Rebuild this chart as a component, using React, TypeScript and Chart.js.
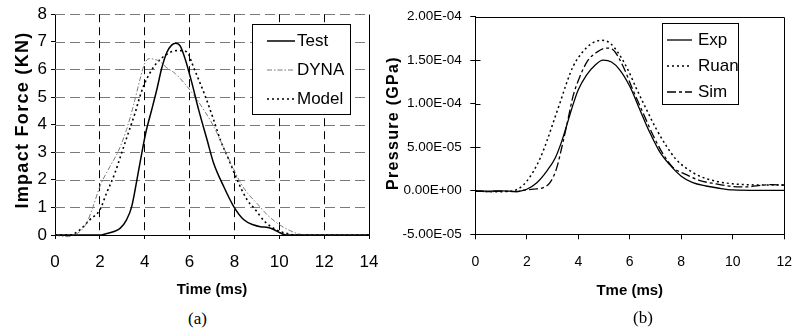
import React, { useEffect, useRef } from "react";
import { Chart, registerables } from "chart.js";

Chart.register(...registerables);
Chart.defaults.color = "#000";

// ---------- Panel (a): impact force ----------
const forceXTicks = [0, 2, 4, 6, 8, 10, 12, 14];
const forceYTicks = [0, 1, 2, 3, 4, 5, 6, 7, 8];

const testTime = [0, 1.0, 2.0, 2.2, 2.6, 2.9, 3.19, 3.42, 3.64, 3.87, 4.06, 4.3, 4.54, 4.76, 4.99, 5.2, 5.38, 5.58, 5.81, 6.1, 6.4, 6.78, 7.07, 7.52, 7.97, 8.42, 8.87, 9.16, 9.5, 9.75, 10.03, 10.3, 11, 12, 13, 14];
const testForce = [0, 0, 0, 0.03, 0.12, 0.24, 0.55, 1.03, 1.94, 2.97, 3.75, 4.5, 5.27, 6.05, 6.62, 6.88, 6.95, 6.85, 6.36, 5.52, 4.55, 3.45, 2.61, 1.76, 1.03, 0.55, 0.36, 0.3, 0.27, 0.2, 0.08, 0, 0, 0, 0, 0];

const dynaTime = [0, 0.3, 0.6, 0.9, 1.1, 1.4, 1.7, 2.0, 2.45, 2.82, 3.19, 3.49, 3.79, 4.01, 4.24, 4.45, 4.69, 4.95, 5.36, 5.88, 6.25, 6.7, 7.1, 7.5, 7.9, 8.3, 8.6, 9.0, 9.5, 10.03, 10.5, 10.9, 11.3, 12, 14];
const dynaForce = [0, -0.04, -0.06, 0.02, 0.12, 0.42, 1.03, 1.76, 2.48, 3.03, 3.82, 4.67, 5.64, 6.24, 6.39, 6.36, 6.28, 6.08, 5.85, 5.39, 5.0, 4.45, 3.9, 3.2, 2.5, 1.85, 1.5, 1.15, 0.7, 0.36, 0.15, 0.03, 0, 0, 0];

const modelTime = [0, 0.66, 1.1, 1.55, 2.0, 2.3, 2.67, 2.97, 3.27, 3.57, 3.79, 4.01, 4.24, 4.54, 4.99, 5.43, 5.8, 5.96, 6.1, 6.4, 6.7, 7.07, 7.37, 7.75, 8.12, 8.57, 8.9, 9.36, 9.88, 10.48, 10.8, 12, 14];
const modelForce = [0, 0, 0.18, 0.55, 0.91, 1.52, 2.24, 2.97, 3.7, 4.42, 5.03, 5.52, 5.88, 6.24, 6.55, 6.68, 6.66, 6.55, 6.24, 5.64, 5.03, 4.18, 3.45, 2.73, 2.0, 1.27, 0.95, 0.48, 0.18, 0.03, 0, 0, 0];

// ---------- Panel (b): pressure ----------
const pressXTicks = [0, 2, 4, 6, 8, 10, 12];
const pressYTicks = [-5e-5, 0, 5e-5, 1e-4, 1.5e-4, 2e-4];

const expTime = [0, 0.5, 1.0, 1.6, 1.8, 2.0, 2.39, 2.77, 3.1, 3.35, 3.55, 3.74, 4.0, 4.32, 4.64, 4.96, 5.29, 5.61, 6.0, 6.38, 6.77, 7.16, 7.55, 8.0, 8.45, 8.96, 9.47, 10.0, 11, 12];
const expP = [0, -0.05, 0, -0.1, 0, 0.18, 0.93, 2.24, 3.74, 5.62, 7.5, 9.37, 11.6, 13.3, 14.4, 15.0, 14.8, 13.9, 12.0, 9.4, 6.75, 4.5, 3.0, 1.68, 0.93, 0.55, 0.29, 0.1, 0.05, 0.05];

const ruanTime = [0, 0.5, 1.0, 1.48, 1.74, 2.0, 2.26, 2.52, 2.77, 3.03, 3.29, 3.55, 3.8, 4.13, 4.51, 4.9, 5.22, 5.54, 5.93, 6.25, 6.64, 7.03, 7.41, 7.8, 8.19, 8.7, 9.35, 10.0, 10.6, 11.3, 12];
const ruanP = [0, -0.1, -0.1, 0, 0.36, 1.1, 2.24, 3.74, 5.62, 7.87, 10.1, 12.4, 14.3, 15.8, 16.9, 17.3, 17.0, 15.9, 13.9, 11.8, 9.4, 7.1, 5.2, 3.6, 2.6, 1.7, 1.1, 0.8, 0.7, 0.65, 0.65];

const simTime = [0, 0.5, 1.0, 1.6, 1.87, 2.26, 2.64, 2.9, 3.16, 3.35, 3.55, 3.8, 4.06, 4.38, 4.71, 5.09, 5.35, 5.74, 6.12, 6.51, 6.9, 7.28, 7.67, 8.19, 8.7, 9.33, 9.97, 10.5, 11.0, 11.5, 12];
const simP = [0, -0.1, -0.05, -0.1, 0.06, 0.18, 0.36, 0.93, 2.6, 4.86, 7.5, 10.9, 13.1, 15.0, 15.9, 16.4, 16.2, 14.3, 11.6, 9.0, 6.4, 4.3, 2.7, 1.86, 1.2, 0.8, 0.5, 0.44, 0.6, 0.7, 0.65];
const pressUnit = 1e-5;

function pts(xs: number[], ys: number[], scale = 1) {
  return xs.map((x, i) => ({ x, y: ys[i] * scale }));
}

function sciLabel(v: number): string {
  if (Math.abs(v) < 1e-12) return "0.00E+00";
  const [m, e] = v.toExponential(2).split("e");
  const n = parseInt(e, 10);
  return `${m}E${n < 0 ? "-" : "+"}${Math.abs(n).toString().padStart(2, "0")}`;
}

const SANS = "'Liberation Sans', Arial, sans-serif";
const NARROW = "'Liberation Sans Narrow', 'Arial Narrow', 'Liberation Sans', sans-serif";

const boxLegend = {
  id: "boxLegend",
  afterDraw(chart: any, _a: any, o: any) {
    if (!o || !o.rows) return;
    const ctx = chart.ctx;
    ctx.save();
    ctx.fillStyle = "#fff";
    ctx.fillRect(o.left, o.top, o.width, o.height);
    ctx.strokeStyle = "#000";
    ctx.lineWidth = 1;
    ctx.strokeRect(Math.round(o.left) + 0.5, Math.round(o.top) + 0.5, o.width, o.height);
    chart.data.datasets.forEach((ds: any, i: number) => {
      const y = o.rows[i];
      ctx.setLineDash(ds.borderDash || []);
      ctx.strokeStyle = ds.borderColor;
      ctx.lineWidth = ds.borderWidth;
      ctx.beginPath();
      ctx.moveTo(o.sampleX, y);
      ctx.lineTo(o.sampleX + o.sampleLen, y);
      ctx.stroke();
      ctx.setLineDash([]);
      ctx.fillStyle = "#000";
      ctx.font = o.font;
      ctx.textAlign = "left";
      ctx.textBaseline = "middle";
      ctx.fillText(ds.label, o.textX, y);
    });
    ctx.restore();
  },
};

const rotatedTitle = {
  id: "rotatedTitle",
  afterDraw(chart: any, _a: any, o: any) {
    if (!o || !o.text) return;
    const ctx = chart.ctx;
    ctx.save();
    ctx.translate(o.x, o.y);
    ctx.rotate(-Math.PI / 2);
    ctx.font = o.font;
    ctx.letterSpacing = o.spacing;
    ctx.fillStyle = "#000";
    ctx.textAlign = "center";
    ctx.textBaseline = "middle";
    ctx.fillText(o.text, 0, 0);
    ctx.restore();
  },
};

// dashed horizontal grid lines drawn from the y scale's ticks
const hGrid = {
  id: "hGrid",
  beforeDatasetsDraw(chart: any, _a: any, o: any) {
    if (!o || !o.color) return;
    const ys = chart.scales.y;
    const { left, right } = chart.chartArea;
    const ctx = chart.ctx;
    ctx.save();
    ctx.strokeStyle = o.color;
    ctx.lineWidth = 1;
    ctx.setLineDash(o.dash);
    ys.ticks.forEach((t: any) => {
      if (t.value === 0) return;
      const p = Math.round(ys.getPixelForValue(t.value)) + 0.5;
      ctx.beginPath();
      ctx.moveTo(left, p);
      ctx.lineTo(right, p);
      ctx.stroke();
    });
    ctx.restore();
  },
};

const frame = {
  id: "frame",
  afterDraw(chart: any, _a: any, o: any) {
    if (!o || !o.sides) return;
    const { left, right, top, bottom } = chart.chartArea;
    const ctx = chart.ctx;
    const L = Math.round(left) + 0.5, R = Math.round(right) + 0.5, T = Math.round(top) + 0.5, B = Math.round(bottom) + 0.5;
    ctx.save();
    ctx.strokeStyle = "#000";
    ctx.lineWidth = 1;
    ctx.setLineDash([]);
    ctx.beginPath();
    o.sides.forEach((s: string) => {
      if (s === "right") { ctx.moveTo(R, T); ctx.lineTo(R, B); }
      if (s === "top") { ctx.moveTo(L, T); ctx.lineTo(R, T); }
    });
    if (o.innerYTicks) {
      const ys = chart.scales.y;
      ys.ticks.forEach((t: any) => {
        const p = Math.round(ys.getPixelForValue(t.value)) + 0.5;
        ctx.moveTo(L, p);
        ctx.lineTo(L + o.innerYTicks, p);
      });
    }
    ctx.stroke();
    ctx.restore();
  },
};

const transparent = "rgba(0,0,0,0)";

function ChartA() {
  const ref = useRef<HTMLCanvasElement>(null);
  useEffect(() => {
    const chart = new Chart(ref.current!, {
      type: "line",
      data: {
        datasets: [
          { label: "Test", data: pts(testTime, testForce), borderColor: "#000", borderWidth: 1.5, borderDash: [], pointRadius: 0, cubicInterpolationMode: "monotone", clip: 6 },
          { label: "DYNA", data: pts(dynaTime, dynaForce), borderColor: "#7a7a7a", borderWidth: 1, borderDash: [5, 2, 1.5, 2], pointRadius: 0, cubicInterpolationMode: "monotone", clip: 6 },
          { label: "Model", data: pts(modelTime, modelForce), borderColor: "#000", borderWidth: 1.6, borderDash: [2, 3], pointRadius: 0, cubicInterpolationMode: "monotone", clip: 6 },
        ],
      } as any,
      options: {
        animation: false,
        responsive: false,
        layout: { padding: { left: 0, top: 14, right: 31, bottom: 0 } },
        plugins: {
          legend: { display: false },
          tooltip: { enabled: false },
          hGrid: { color: "#7a7a7a", dash: [10, 5] },
          boxLegend: { left: 252, top: 24, width: 98, height: 90, rows: [41, 70, 99], sampleX: 267, sampleLen: 28, textX: 297, font: `17px ${NARROW}` },
          rotatedTitle: { text: "Impact Force (KN)", x: 23, y: 120, font: `bold 18px ${SANS}`, spacing: "1.3px" },
          frame: { sides: ["right"] },
        } as any,
        scales: {
          x: {
            type: "linear", min: 0, max: 14,
            afterBuildTicks: (s: any) => { s.ticks = forceXTicks.map((v) => ({ value: v })); },
            afterFit: (s: any) => { s.height = 70; },
            grid: { color: (c: any) => (c.tick && (c.tick.value === 0 || c.tick.value === 14) ? transparent : "#000"), lineWidth: 1, tickLength: 4, tickColor: "#000" },
            border: { display: true, color: "#000", width: 1, dash: [8, 5] },
            ticks: { font: { family: SANS, size: 17 }, color: "#000", padding: 12.8, maxRotation: 0, autoSkip: false },
            title: { display: true, text: "Time (ms)", font: { family: SANS, size: 15, weight: "bold" }, color: "#000", padding: { top: 0, bottom: 6 } },
          },
          y: {
            type: "linear", min: 0, max: 8,
            afterBuildTicks: (s: any) => { s.ticks = forceYTicks.map((v) => ({ value: v })); },
            afterFit: (s: any) => { s.width = 55; },
            grid: { drawOnChartArea: false, tickLength: 4, tickColor: "#000" },
            border: { display: true, color: "#000", width: 1 },
            ticks: { font: { family: SANS, size: 17 }, color: "#000", padding: 4, autoSkip: false },
          },
        } as any,
      },
      plugins: [hGrid, frame, rotatedTitle, boxLegend],
    });
    return () => chart.destroy();
  }, []);
  return <canvas ref={ref} width={400} height={305} style={{ position: "absolute", left: 0, top: 0 }} />;
}

function ChartB() {
  const ref = useRef<HTMLCanvasElement>(null);
  useEffect(() => {
    const chart = new Chart(ref.current!, {
      type: "line",
      data: {
        datasets: [
          { label: "Exp", data: pts(expTime, expP, pressUnit), borderColor: "#000", borderWidth: 1.3, borderDash: [], pointRadius: 0, cubicInterpolationMode: "monotone" },
          { label: "Ruan", data: pts(ruanTime, ruanP, pressUnit), borderColor: "#000", borderWidth: 1.5, borderDash: [2, 3], pointRadius: 0, cubicInterpolationMode: "monotone" },
          { label: "Sim", data: pts(simTime, simP, pressUnit), borderColor: "#000", borderWidth: 1.3, borderDash: [9, 3, 3, 3], pointRadius: 0, cubicInterpolationMode: "monotone" },
        ],
      } as any,
      options: {
        animation: false,
        responsive: false,
        layout: { padding: { left: 0, top: 12.3, right: 20.3, bottom: 0 } },
        plugins: {
          legend: { display: false },
          tooltip: { enabled: false },
          boxLegend: { left: 282, top: 23, width: 76, height: 81, rows: [40, 66, 92], sampleX: 287, sampleLen: 25, textX: 318, font: `17px ${NARROW}` },
          rotatedTitle: { text: "Pressure (GPa)", x: 14, y: 123, font: `bold 16px ${SANS}`, spacing: "1.3px" },
          frame: { sides: ["right", "top"], innerYTicks: 5 },
        } as any,
        scales: {
          x: {
            type: "linear", min: 0, max: 12,
            afterBuildTicks: (s: any) => { s.ticks = pressXTicks.map((v) => ({ value: v })); },
            afterFit: (s: any) => { s.height = 70.7; },
            grid: { drawOnChartArea: false, tickLength: 5, tickColor: "#000" },
            border: { display: true, color: "#000", width: 1 },
            ticks: { font: { family: SANS, size: 14 }, color: "#000", padding: 14, maxRotation: 0, autoSkip: false },
            title: { display: true, text: "Tme (ms)", font: { family: SANS, size: 15, weight: "bold" }, color: "#000", padding: { top: 0, bottom: 5.5 } },
          },
          y: {
            type: "linear", min: -5e-5, max: 2e-4,
            afterBuildTicks: (s: any) => { s.ticks = pressYTicks.map((v) => ({ value: v })); },
            afterFit: (s: any) => { s.width = 95.3; },
            grid: { drawOnChartArea: false, tickLength: 5, tickColor: "#000" },
            border: { display: true, color: "#000", width: 1 },
            ticks: { font: { family: SANS, size: 13.5 }, color: "#000", padding: 8.6, autoSkip: false, callback: (v: any) => sciLabel(Number(v)) },
          },
        } as any,
      },
      plugins: [frame, rotatedTitle, boxLegend],
    });
    return () => chart.destroy();
  }, []);
  return <canvas ref={ref} width={426} height={305} style={{ position: "absolute", left: 380, top: 0 }} />;
}

const captionStyle: React.CSSProperties = {
  position: "absolute",
  width: 40,
  textAlign: "center",
  fontFamily: "'Liberation Serif', 'Times New Roman', serif",
  fontSize: 17,
  lineHeight: "20px",
  color: "#000",
};

export default function App() {
  return (
    <div style={{ position: "fixed", left: 0, top: 0, width: 806, height: 332, background: "#fff", overflow: "hidden" }}>
      <ChartA />
      <ChartB />
      <div style={{ ...captionStyle, left: 177.5, top: 309 }}>(a)</div>
      <div style={{ ...captionStyle, left: 623, top: 308 }}>(b)</div>
    </div>
  );
}
